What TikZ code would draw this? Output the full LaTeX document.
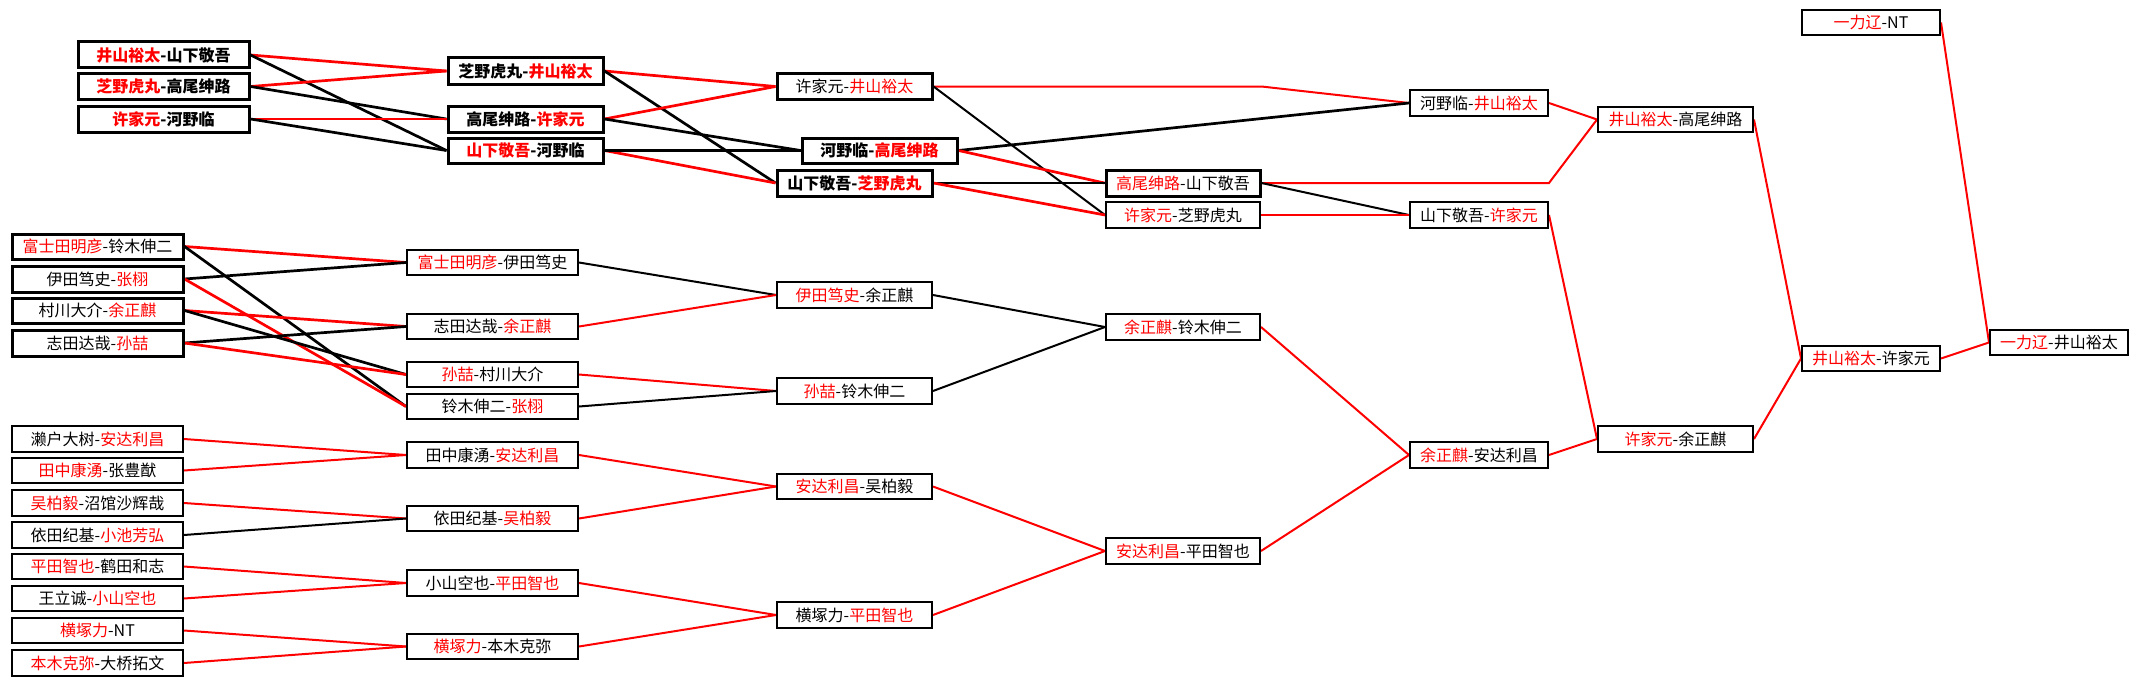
\documentclass[tikz,border=0pt]{standalone}
\usepackage{fontspec}
\setmainfont{Noto Sans CJK SC}
\usetikzlibrary{backgrounds}
\newcommand{\rd}[1]{\textcolor{red}{#1}}
\newcommand{\bx}[7]{\node[#1, minimum width={(#5-#3)*1pt}, minimum height={(#6-#4)*1pt}] (#2) at ({(#3+#5)/2},{(#4+#6)/2}) {#7};}
\tikzset{
  bx/.style={draw=black, fill=white, line width=2pt, inner sep=0pt, font=\fontsize{16}{16}\selectfont},
  bxt/.style={bx, line width=3pt},
  bxb/.style={bx, line width=3pt, font=\fontsize{16}{16}\selectfont\bfseries},
  win/.style={draw=red, line width=2pt},
  lose/.style={draw=black, line width=2pt},
  winT/.style={draw=red, line width=2.7pt},
  loseT/.style={draw=black, line width=2.7pt},
}
\begin{document}
\begin{tikzpicture}[x=1pt,y=-1pt]
\useasboundingbox (0,0) rectangle (2139,685);
% ---------- group 1 ----------
\bx{bxb}{n1}{78}{42}{249}{68}{\rd{井山裕太}-山下敬吾}
\bx{bxb}{n2}{78}{74}{249}{99}{\rd{芝野虎丸}-高尾绅路}
\bx{bxb}{n3}{78}{106}{249}{132}{\rd{许家元}-河野临}
\bx{bxb}{n4}{448}{58}{603}{84}{芝野虎丸-\rd{井山裕太}}
\bx{bxb}{n5}{448}{106}{603}{132}{高尾绅路-\rd{许家元}}
\bx{bxb}{n6}{448}{138}{603}{163}{\rd{山下敬吾}-河野临}
\bx{bxt}{n7}{777}{74}{932}{99}{许家元-\rd{井山裕太}}
\bx{bxb}{n8}{802}{138}{957}{163}{河野临-\rd{高尾绅路}}
\bx{bxb}{n9}{777}{170}{932}{196}{山下敬吾-\rd{芝野虎丸}}
\bx{bxt}{n10}{1106}{170}{1260}{196}{\rd{高尾绅路}-山下敬吾}
\bx{bx}{n11}{1106}{202}{1260}{228}{\rd{许家元}-芝野虎丸}
\bx{bx}{n12}{1410}{90}{1548}{116}{河野临-\rd{井山裕太}}
\bx{bx}{n13}{1410}{202}{1548}{228}{山下敬吾-\rd{许家元}}
\bx{bx}{n14}{1598}{107}{1753}{132}{\rd{井山裕太}-高尾绅路}
\bx{bx}{n15}{1802}{10}{1940}{35}{\rd{一力辽}-NT}
\bx{bx}{n16}{1802}{346}{1940}{371}{\rd{井山裕太}-许家元}
\bx{bx}{n17}{1990}{330}{2128}{355}{\rd{一力辽}-井山裕太}
% ---------- group 2 ----------
\bx{bxt}{n18}{12}{234}{183}{259}{\rd{富士田明彦}-铃木伸二}
\bx{bxt}{n19}{12}{266}{183}{292}{伊田笃史-\rd{张栩}}
\bx{bxt}{n20}{12}{298}{183}{323}{村川大介-\rd{余正麒}}
\bx{bxt}{n21}{12}{330}{183}{356}{志田达哉-\rd{孙喆}}
\bx{bx}{n22}{407}{250}{578}{275}{\rd{富士田明彦}-伊田笃史}
\bx{bx}{n23}{407}{314}{578}{339}{志田达哉-\rd{余正麒}}
\bx{bx}{n24}{407}{362}{578}{387}{\rd{孙喆}-村川大介}
\bx{bx}{n25}{407}{394}{578}{419}{铃木伸二-\rd{张栩}}
\bx{bx}{n26}{777}{282}{932}{308}{\rd{伊田笃史}-余正麒}
\bx{bx}{n27}{777}{378}{932}{404}{\rd{孙喆}-铃木伸二}
\bx{bx}{n28}{1106}{314}{1260}{340}{\rd{余正麒}-铃木伸二}
% ---------- group 3 ----------
\bx{bx}{n29}{12}{426}{183}{452}{濑户大树-\rd{安达利昌}}
\bx{bx}{n30}{12}{458}{183}{483}{\rd{田中康湧}-张豊猷}
\bx{bx}{n31}{12}{490}{183}{516}{\rd{吴柏毅}-沼馆沙辉哉}
\bx{bx}{n32}{12}{522}{183}{548}{依田纪基-\rd{小池芳弘}}
\bx{bx}{n33}{12}{554}{183}{579}{\rd{平田智也}-鹤田和志}
\bx{bx}{n34}{12}{586}{183}{611}{王立诚-\rd{小山空也}}
\bx{bx}{n35}{12}{618}{183}{643}{\rd{横塚力}-NT}
\bx{bx}{n36}{12}{650}{183}{676}{\rd{本木克弥}-大桥拓文}
\bx{bx}{n37}{407}{442}{578}{468}{田中康湧-\rd{安达利昌}}
\bx{bx}{n38}{407}{506}{578}{531}{依田纪基-\rd{吴柏毅}}
\bx{bx}{n39}{407}{570}{578}{596}{小山空也-\rd{平田智也}}
\bx{bx}{n40}{407}{634}{578}{659}{\rd{横塚力}-本木克弥}
\bx{bx}{n41}{777}{474}{932}{499}{\rd{安达利昌}-吴柏毅}
\bx{bx}{n42}{777}{602}{932}{628}{横塚力-\rd{平田智也}}
\bx{bx}{n43}{1106}{538}{1260}{564}{\rd{安达利昌}-平田智也}
\bx{bx}{n44}{1410}{442}{1548}{468}{\rd{余正麒}-安达利昌}
\bx{bx}{n45}{1598}{426}{1753}{452}{\rd{许家元}-余正麒}
\begin{scope}[on background layer]
\fill[white] (0,0) rectangle (2139,685);
% group 1
\draw[winT]  (n1.east) -- (n4.west);
\draw[loseT] (n1.east) -- (n6.west);
\draw[winT]  (n2.east) -- (n4.west);
\draw[loseT] (n2.east) -- (n5.west);
\draw[winT]  (n3.east) -- (n5.west);
\draw[loseT] (n3.east) -- (n6.west);
\draw[winT]  (n4.east) -- (n7.west);
\draw[loseT] (n4.east) -- (n9.west);
\draw[winT]  (n5.east) -- (n7.west);
\draw[loseT] (n5.east) -- (n8.west);
\draw[winT]  (n6.east) -- (n9.west);
\draw[loseT] (n6.east) -- (n8.west);
\draw[win]   (n7.east) -- (n7.east -| n10.east) -- (n12.west);
\draw[lose]  (n7.east) -- (n11.west);
\draw[loseT] (n8.east) -- (n12.west);
\draw[winT]  (n8.east) -- (n10.west);
\draw[loseT] (n9.east) -- (n10.west);
\draw[winT]  (n9.east) -- (n11.west);
\draw[win]   (n10.east) -- (n10.east -| n12.east) -- (n14.west);
\draw[lose]  (n10.east) -- (n13.west);
\draw[win]   (n11.east) -- (n13.west);
\draw[win]   (n12.east) -- (n14.west);
\draw[win]   (n13.east) -- (n45.west);
\draw[win]   (n14.east) -- (n16.west);
\draw[win]   (n15.east) -- (n17.west);
\draw[win]   (n16.east) -- (n17.west);
\draw[win]   (n45.east) -- (n16.west);
\draw[win]   (n44.east) -- (n45.west);
\draw[win]   (n28.east) -- (n44.west);
\draw[win]   (n43.east) -- (n44.west);
% group 2
\draw[winT]  (n18.east) -- (n22.west);
\draw[loseT] (n18.east) -- (n25.west);
\draw[loseT] (n19.east) -- (n22.west);
\draw[winT]  (n19.east) -- (n25.west);
\draw[winT]  (n20.east) -- (n23.west);
\draw[loseT] (n20.east) -- (n24.west);
\draw[loseT] (n21.east) -- (n23.west);
\draw[winT]  (n21.east) -- (n24.west);
\draw[lose]  (n22.east) -- (n26.west);
\draw[win]   (n23.east) -- (n26.west);
\draw[win]   (n24.east) -- (n27.west);
\draw[lose]  (n25.east) -- (n27.west);
\draw[lose]  (n26.east) -- (n28.west);
\draw[lose]  (n27.east) -- (n28.west);
% group 3
\draw[win]   (n29.east) -- (n37.west);
\draw[win]   (n30.east) -- (n37.west);
\draw[win]   (n31.east) -- (n38.west);
\draw[lose]  (n32.east) -- (n38.west);
\draw[win]   (n33.east) -- (n39.west);
\draw[win]   (n34.east) -- (n39.west);
\draw[win]   (n35.east) -- (n40.west);
\draw[win]   (n36.east) -- (n40.west);
\draw[win]   (n37.east) -- (n41.west);
\draw[win]   (n38.east) -- (n41.west);
\draw[win]   (n39.east) -- (n42.west);
\draw[win]   (n40.east) -- (n42.west);
\draw[win]   (n41.east) -- (n43.west);
\draw[win]   (n42.east) -- (n43.west);
\end{scope}
\end{tikzpicture}
\end{document}
